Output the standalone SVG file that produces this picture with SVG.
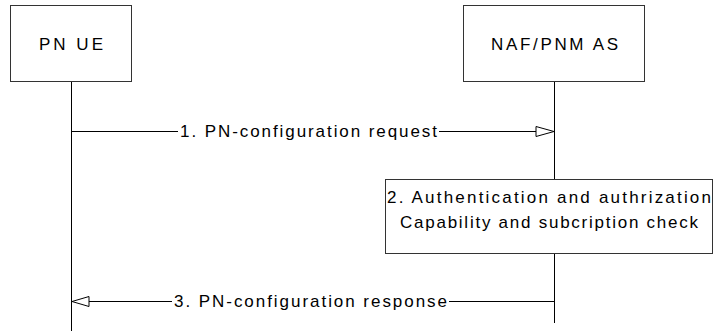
<svg xmlns="http://www.w3.org/2000/svg" width="713" height="331" viewBox="0 0 713 331">
<style>
.box{fill:#fff;stroke:#333;stroke-width:1}
.ln{stroke:#000;stroke-width:1;fill:none}
.hd{fill:#fff;stroke:#000;stroke-width:1}
text{font-family:"Liberation Sans",Arial,sans-serif;font-size:17px;fill:#000}
</style>
<rect width="713" height="331" fill="#fff"/>
<g id="connectors">
<line class="ln" x1="71.5" y1="81" x2="71.5" y2="331"/>
<line class="ln" x1="554.5" y1="81" x2="554.5" y2="179"/>
<line class="ln" x1="554.5" y1="253" x2="554.5" y2="323"/>
<g id="msg1">
<line class="ln" x1="71.5" y1="131.5" x2="178" y2="131.5"/>
<line class="ln" x1="439" y1="131.5" x2="536" y2="131.5"/>
<polygon class="hd" points="536,126.5 554,131.5 536,136.5"/>
<text x="180" y="137" textLength="257" lengthAdjust="spacing">1. PN-configuration request</text>
</g>
<g id="msg3">
<line class="ln" x1="89" y1="301.5" x2="172" y2="301.5"/>
<line class="ln" x1="449" y1="301.5" x2="554.5" y2="301.5"/>
<polygon class="hd" points="72,301.5 89,296.5 89,306.5"/>
<text x="174" y="307" textLength="273" lengthAdjust="spacing">3. PN-configuration response</text>
</g>
</g>
<g id="pnue">
<rect class="box" x="10.5" y="5.5" width="121" height="76"/>
<text x="39" y="50" textLength="64" lengthAdjust="spacing">PN UE</text>
</g>
<g id="naf">
<rect class="box" x="463.5" y="5.5" width="181" height="76"/>
<text x="491" y="50" textLength="127" lengthAdjust="spacing">NAF/PNM AS</text>
</g>
<g id="step2">
<rect class="box" x="385.5" y="179.5" width="327" height="74"/>
<text x="387" y="203" textLength="324" lengthAdjust="spacing">2. Authentication and authrization</text>
<text x="400" y="228" textLength="298" lengthAdjust="spacing">Capability and subcription check</text>
</g>
</svg>
